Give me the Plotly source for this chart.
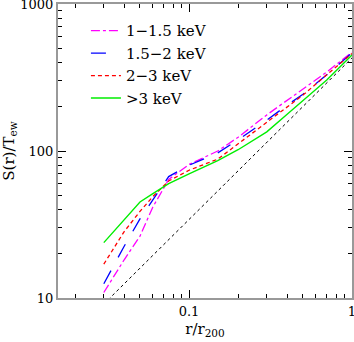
import plotly.graph_objects as go

# radius in units of r200
r = [0.03, 0.04, 0.05, 0.06, 0.075, 0.1, 0.15, 0.2, 0.3, 0.4, 0.5, 0.7, 1.0]

s_1_15 = [10.9, 18.2, 26.3, 41.6, 64, 81, 100, 124, 176, 222, 262, 345, 470]
s_15_2 = [12.5, 22.5, 34.5, 46.7, 67, 80, 97, 119, 162, 205, 243, 330, 465]
s_2_3 = [17.0, 28.3, 38.8, 49.0, 62.5, 74, 88, 112, 158, 200, 240, 330, 460]
s_3 = [23.8, 34.0, 45.0, 51.3, 60, 70, 86, 102, 135, 178, 220, 304, 450]

# reference power law
r_ref = [0.03, 1.0]
s_ref = [9.1, 430]

serif = "DejaVu Serif"

fig = go.Figure()
fig.add_trace(go.Scatter(x=r, y=s_1_15, mode="lines", name="1\u22121.5 keV",
                         line=dict(color="#ff00ff", width=1.3, dash="dashdot")))
fig.add_trace(go.Scatter(x=r, y=s_15_2, mode="lines", name="1.5\u22122 keV",
                         line=dict(color="#0000ff", width=1.3, dash="longdash")))
fig.add_trace(go.Scatter(x=r, y=s_2_3, mode="lines", name="2\u22123 keV",
                         line=dict(color="#ff0000", width=1.3, dash="4px,3px")))
fig.add_trace(go.Scatter(x=r, y=s_3, mode="lines", name=">3 keV",
                         line=dict(color="#00ee00", width=1.4)))
fig.add_trace(go.Scatter(x=r_ref, y=s_ref, mode="lines", showlegend=False,
                         line=dict(color="black", width=1, dash="dot")))

axis = dict(showgrid=False, zeroline=False, showline=True, linecolor="#999999",
            linewidth=2, mirror="allticks", ticks="inside", ticklen=8,
            tickcolor="black", tickwidth=1, dtick=1, ticklabeloverflow="allow",
            tickfont=dict(family=serif, size=13, color="black"),
            minor=dict(ticks="inside", ticklen=4, tickcolor="black", dtick="D1"))

fig.update_xaxes(type="log", range=[-1.804, 0], **axis,
                 title=dict(text="r/r<sub>200</sub>", font=dict(family=serif, size=15, color="black"),
                            standoff=6))
fig.update_yaxes(type="log", range=[1, 3], **axis,
                 title=dict(text="S(r)/T<sub>ew</sub>", font=dict(family=serif, size=15, color="black"),
                            standoff=7))

fig.update_layout(
    width=354, height=342,
    margin=dict(l=58, r=2, t=4, b=44, autoexpand=False),
    paper_bgcolor="white", plot_bgcolor="white",
    showlegend=True,
    legend=dict(x=0.095, y=0.965, xanchor="left", yanchor="top",
                bgcolor="rgba(0,0,0,0)", tracegroupgap=0,
                font=dict(family=serif, size=15, color="black")),
)

fig.write_html("out.html", config={"displayModeBar": False},
               post_script="document.body.style.margin='0';")
